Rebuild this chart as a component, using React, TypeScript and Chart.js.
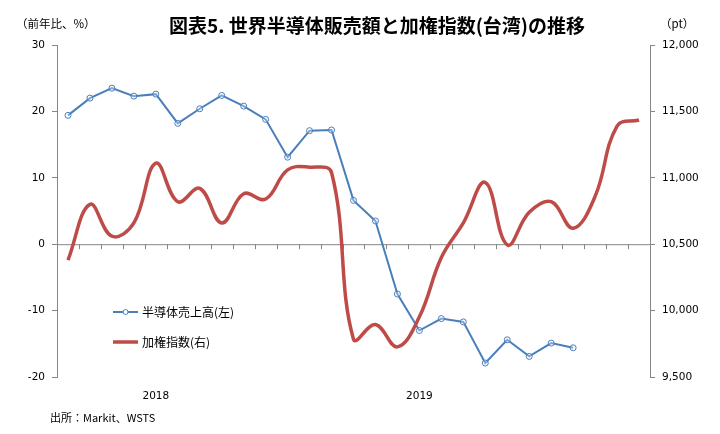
import { useEffect, useRef } from 'react';
import { Chart, registerables } from 'chart.js';

Chart.register(...registerables);

// Monthly, Sep 2017 - Nov 2019
const months = [
  '2017-09', '2017-10', '2017-11', '2017-12',
  '2018-01', '2018-02', '2018-03', '2018-04', '2018-05', '2018-06',
  '2018-07', '2018-08', '2018-09', '2018-10', '2018-11', '2018-12',
  '2019-01', '2019-02', '2019-03', '2019-04', '2019-05', '2019-06',
  '2019-07', '2019-08', '2019-09', '2019-10', '2019-11',
];

// 半導体売上高 前年比 (%)
const semiSales = [
  19.4, 22.0, 23.5, 22.3, 22.6, 18.2, 20.4, 22.4, 20.8, 18.8,
  13.1, 17.1, 17.2, 6.6, 3.5, -7.5, -13.0, -11.2, -11.7, -17.9,
  -14.4, -16.9, -14.9, -15.6, null, null, null,
];

// 加権指数 (pt)
const taiex = [
  10380, 10800, 10560, 10660, 11110, 10820, 10920, 10660, 10880, 10840,
  11060, 11080, 11040, 9785, 9895, 9727, 9953, 10400, 10660, 10965,
  10495, 10740, 10820, 10620, 10860, 11390, 11435,
];

const yearLabels: Record<number, string> = { 4: '2018', 16: '2019' };

const BLUE = '#4a7ebb';
const RED = '#be4b48';
const AXIS = '#868686';
const JP = '"Noto Sans CJK JP", "Noto Sans", sans-serif';
const NUM = '"DejaVu Sans", sans-serif';

const decorations = {
  id: 'decorations',
  beforeDatasetsDraw(chart: Chart) {
    const { ctx, chartArea, scales } = chart;
    const y0 = scales.y.getPixelForValue(0);
    const n = months.length;
    const step = (chartArea.right - chartArea.left) / n;
    ctx.save();
    ctx.strokeStyle = AXIS;
    ctx.lineWidth = 1;
    ctx.beginPath();
    ctx.moveTo(chartArea.left, y0 + 0.5);
    ctx.lineTo(chartArea.right, y0 + 0.5);
    for (let i = 1; i < n; i++) {
      const x = Math.round(chartArea.left + i * step) + 0.5;
      ctx.moveTo(x, y0);
      ctx.lineTo(x, y0 + 5);
    }
    ctx.stroke();
    ctx.restore();
  },
  afterDraw(chart: Chart) {
    const { ctx } = chart;
    ctx.save();
    ctx.fillStyle = '#000';
    ctx.textBaseline = 'middle';

    ctx.font = `bold 19px ${JP}`;
    ctx.textAlign = 'center';
    ctx.fillText('図表5. 世界半導体販売額と加権指数(台湾)の推移', 377, 26);

    ctx.font = `11.5px ${JP}`;
    ctx.textAlign = 'left';
    ctx.fillText('（前年比、%）', 16, 24);
    ctx.fillText('（pt）', 660, 24);

    // legend
    ctx.font = `12px ${JP}`;
    ctx.strokeStyle = BLUE;
    ctx.lineWidth = 2;
    ctx.beginPath();
    ctx.moveTo(113, 312);
    ctx.lineTo(138, 312);
    ctx.stroke();
    ctx.lineWidth = 1;
    ctx.beginPath();
    ctx.arc(125.5, 312, 2.5, 0, Math.PI * 2);
    ctx.fillStyle = '#fff';
    ctx.fill();
    ctx.stroke();
    ctx.fillStyle = '#000';
    ctx.fillText('半導体売上高(左)', 142, 312);

    ctx.strokeStyle = RED;
    ctx.lineWidth = 3.5;
    ctx.beginPath();
    ctx.moveTo(113, 342);
    ctx.lineTo(138, 342);
    ctx.stroke();
    ctx.fillText('加権指数(右)', 142, 342);

    ctx.font = `11px ${JP}`;
    ctx.fillText('出所：Markit、WSTS', 50, 418);
    ctx.restore();
  },
};

export default function App() {
  const chartRef = useRef<HTMLCanvasElement>(null);
  const chartInstance = useRef<Chart | null>(null);

  useEffect(() => {
    if (!chartRef.current) return;
    if (chartInstance.current) chartInstance.current.destroy();
    const ctx = chartRef.current.getContext('2d');
    if (!ctx) return;

    chartInstance.current = new Chart(ctx, {
      type: 'line',
      data: {
        labels: months,
        datasets: [
          {
            label: '半導体売上高(左)',
            data: semiSales,
            yAxisID: 'y',
            borderColor: BLUE,
            borderWidth: 2,
            pointRadius: 3,
            pointBorderWidth: 1,
            pointBackgroundColor: 'rgba(255,255,255,0.3)',
            pointBorderColor: BLUE,
            tension: 0,
            order: 2,
          },
          {
            label: '加権指数(右)',
            data: taiex,
            yAxisID: 'y1',
            borderColor: RED,
            borderWidth: 3.5,
            pointRadius: 0,
            tension: 0.4,
            order: 1,
          },
        ],
      },
      options: {
        responsive: true,
        maintainAspectRatio: false,
        animation: false,
        layout: { padding: { top: 45, left: 0, right: 0, bottom: 0 } },
        plugins: {
          legend: { display: false },
          tooltip: { enabled: false },
        },
        scales: {
          x: {
            offset: true,
            grid: { display: false },
            border: { display: false },
            ticks: {
              autoSkip: false,
              maxRotation: 0,
              padding: 5,
              color: '#000',
              font: { family: NUM, size: 10.5 },
              callback: (_v, i) => yearLabels[i] ?? '',
            },
            afterFit: (s: any) => { s.height = 57; },
          },
          y: {
            position: 'left',
            min: -20,
            max: 30,
            grid: { drawOnChartArea: false, tickLength: 5, color: AXIS },
            border: { color: AXIS },
            ticks: {
              stepSize: 10,
              padding: 7,
              color: '#000',
              font: { family: NUM, size: 10.5 },
            },
            afterFit: (s: any) => { s.width = 57; },
          },
          y1: {
            position: 'right',
            min: 9500,
            max: 12000,
            grid: { drawOnChartArea: false, tickLength: 5, color: AXIS },
            border: { color: AXIS },
            ticks: {
              stepSize: 500,
              padding: 7,
              color: '#000',
              font: { family: NUM, size: 10.5 },
              callback: (v) => Number(v).toLocaleString('en-US'),
            },
            afterFit: (s: any) => { s.width = 70; },
          },
        },
      },
      plugins: [decorations],
    });

    return () => {
      if (chartInstance.current) {
        chartInstance.current.destroy();
        chartInstance.current = null;
      }
    };
  }, []);

  return (
    <div style={{ position: 'absolute', left: 0, top: 0, width: 720, height: 434, background: '#fff' }}>
      <canvas ref={chartRef}></canvas>
    </div>
  );
}
